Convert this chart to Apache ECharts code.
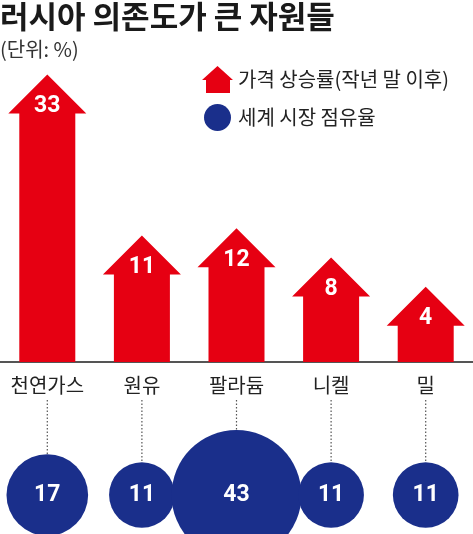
<!DOCTYPE html>
<html>
<head>
<meta charset="utf-8">
<script src="https://cdn.jsdelivr.net/npm/echarts@6/dist/echarts.min.js"></script>
<style>
  html, body { margin: 0; padding: 0; background: #fff; }
  #chart { width: 473px; height: 534px; }
</style>
</head>
<body>
<div id="chart"></div>
<script>
// 자원 이름
var categories = ['천연가스', '원유', '팔라듐', '니켈', '밀']
// 가격 상승률(작년 말 이후), %
var priceRise = [33, 11, 12, 8, 4]
// 세계 시장 점유율, %
var marketShare = [17, 11, 43, 11, 11]

var RED = '#e60012'
var NAVY = '#1a2f8b'
var FONT = 'Noto Sans CJK KR'
var Y_MIN = -6.3

var chart = echarts.init(document.getElementById('chart'))

// 화살표 한개 그리기
function renderArrow(params, api) {
  var tip = api.coord([api.value(0), api.value(1)])
  var base = api.coord([api.value(0), Y_MIN])
  var cx = tip[0]
  var shaft = 28, head = 39, headH = 39
  return {
    type: 'group',
    children: [
      {
        type: 'polygon',
        shape: {
          points: [
            [cx, tip[1]],
            [cx + head, tip[1] + headH],
            [cx + shaft, tip[1] + headH],
            [cx + shaft, base[1]],
            [cx - shaft, base[1]],
            [cx - shaft, tip[1] + headH],
            [cx - head, tip[1] + headH]
          ]
        },
        style: { fill: RED }
      },
      {
        type: 'text',
        style: {
          text: String(api.value(1)),
          x: cx,
          y: tip[1] + 32,
          align: 'center',
          verticalAlign: 'middle',
          fill: '#fff',
          font: 'bold 23px Roboto'
        }
      }
    ]
  }
}

// 점선 (이름 -> 원)
function renderLeader(params, api) {
  var c = api.coord([api.value(0), 0])
  var r = 9.9 * Math.sqrt(api.value(2))
  return {
    type: 'line',
    shape: { x1: c[0], y1: params.coordSys.y, x2: c[0], y2: c[1] - r },
    style: { stroke: '#555', lineWidth: 1.2, lineDash: [1.5, 2] }
  }
}

var option = {
  animation: false,
  title: [
    {
      text: '러시아 의존도가 큰 자원들',
      left: 0, top: 1, padding: 0,
      textStyle: { fontFamily: FONT, fontSize: 31, fontWeight: 'bold', color: '#1a1a1a' }
    },
    {
      text: '(단위: %)',
      left: 0, top: 39, padding: 0,
      textStyle: { fontFamily: FONT, fontSize: 20, fontWeight: 'normal', color: '#333' }
    }
  ],
  legend: {
    orient: 'vertical',
    left: 202, top: 66,
    padding: 0,
    itemWidth: 31, itemHeight: 27, itemGap: 11,
    textStyle: { fontFamily: FONT, fontSize: 20, color: '#222' },
    data: [
      { name: '가격 상승률(작년 말 이후)', icon: 'path://M15.5,0 L31,14 L28,14 L28,27 L4,27 L4,14 L0,14 Z' },
      { name: '세계 시장 점유율', icon: 'circle' }
    ]
  },
  grid: [
    { left: -2, right: -3, top: 60, bottom: 172 },
    { left: -2, right: -3, top: 400, bottom: 0 }
  ],
  xAxis: [
    {
      gridIndex: 0, type: 'category', data: categories,
      axisLine: { onZero: false, lineStyle: { color: '#555', width: 2 } },
      axisTick: { show: false },
      axisLabel: { interval: 0, fontFamily: FONT, fontSize: 20, color: '#222', margin: 13 }
    },
    { gridIndex: 1, type: 'category', data: categories, show: false }
  ],
  yAxis: [
    { gridIndex: 0, type: 'value', min: Y_MIN, max: 35, show: false },
    // 원 중심이 y=495 근처에 오도록
    { gridIndex: 1, type: 'value', min: -39, max: 95, inverse: false, show: false }
  ],
  series: [
    {
      name: '가격 상승률(작년 말 이후)',
      type: 'custom',
      xAxisIndex: 0, yAxisIndex: 0,
      itemStyle: { color: RED },
      renderItem: renderArrow,
      data: priceRise.map(function (v, i) { return [i, v] })
    },
    {
      type: 'custom',
      xAxisIndex: 1, yAxisIndex: 1,
      silent: true,
      renderItem: renderLeader,
      data: marketShare.map(function (v, i) { return [i, 0, v] })
    },
    {
      name: '세계 시장 점유율',
      type: 'scatter',
      xAxisIndex: 1, yAxisIndex: 1,
      clip: false,
      z: 5,
      itemStyle: { color: NAVY, opacity: 1 },
      symbolSize: function (val) { return 19.8 * Math.sqrt(val[2]) },
      label: {
        show: true, position: 'inside',
        formatter: function (p) { return p.value[2] },
        color: '#fff', fontFamily: 'Roboto', fontSize: 23, fontWeight: 'bold'
      },
      data: marketShare.map(function (v, i) { return [i, 0, v] })
    }
  ]
}

chart.setOption(option)
</script>
</body>
</html>
